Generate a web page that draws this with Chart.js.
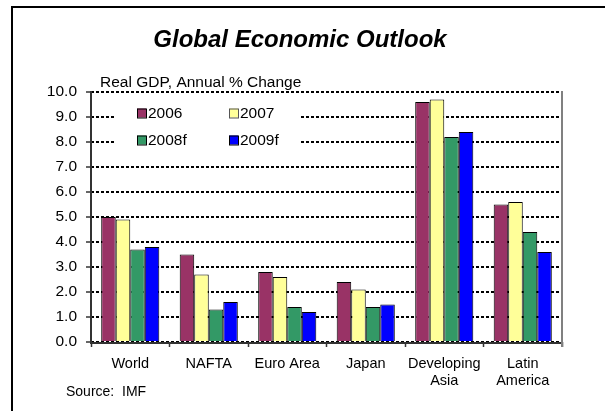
<!DOCTYPE html>
<html>
<head>
<meta charset="utf-8">
<script src="https://cdn.jsdelivr.net/npm/chart.js@4"></script>
<style>
html,body{margin:0;padding:0;background:#fff;}
#wrap{width:605px;height:411px;position:relative;}
</style>
</head>
<body>
<div id="wrap"><canvas id="c" width="605" height="411"></canvas></div>
<script>
const categories = [["World"], ["NAFTA"], ["Euro Area"], ["Japan"], ["Developing", "Asia"], ["Latin", "America"]];
const seriesNames = ["2006", "2007", "2008f", "2009f"];
const v2006 = [5.0, 3.5, 2.8, 2.4, 9.6, 5.5];
const v2007 = [4.9, 2.7, 2.6, 2.1, 9.7, 5.6];
const v2008f = [3.7, 1.3, 1.4, 1.4, 8.2, 4.4];
const v2009f = [3.8, 1.6, 1.2, 1.5, 8.4, 3.6];
const yTicks = [0, 1, 2, 3, 4, 5, 6, 7, 8, 9, 10];
const titleText = "Global Economic Outlook";
const subtitleText = "Real GDP, Annual % Change";
const sourceText = "Source:  IMF";

const colors = ["#993366", "#FFFF99", "#339966", "#0000FF"];
const FONT = "'Liberation Sans', Arial, Helvetica, sans-serif";

const extras = {
  id: 'extras',
  beforeDraw(chart) {
    const ctx = chart.ctx;
    ctx.save();
    ctx.fillStyle = '#fff';
    ctx.fillRect(0, 0, chart.width, chart.height);
    ctx.restore();
  },
  afterDatasetsDraw(chart) {
    const ctx = chart.ctx;
    const a = chart.chartArea;
    ctx.save();
    ctx.setLineDash([]);
    // axis lines (solid)
    ctx.strokeStyle = '#333';
    ctx.lineWidth = 2;
    ctx.beginPath();
    ctx.moveTo(a.left, a.top - 1);
    ctx.lineTo(a.left, a.bottom + 1);
    ctx.lineTo(a.right, a.bottom + 1);
    ctx.stroke();
    // right edge of plot
    ctx.strokeStyle = '#808080';
    ctx.beginPath();
    ctx.moveTo(a.right, a.top - 1);
    ctx.lineTo(a.right, a.bottom + 5);
    ctx.stroke();
    // legend box
    const lx = a.left + 24, ly = a.top + 9, lw = 185, lh = 52;
    ctx.fillStyle = '#fff';
    ctx.fillRect(lx, ly, lw, lh);
    ctx.font = "15.5px " + FONT;
    ctx.textBaseline = 'middle';
    ctx.textAlign = 'left';
    chart.data.datasets.forEach((ds, i) => {
      const col = i % 2, row = Math.floor(i / 2);
      const sx = lx + 22 + col * 92;
      const sy = ly + 12 + row * 27;
      ctx.fillStyle = ds.backgroundColor;
      ctx.fillRect(sx, sy - 4.5, 9, 9);
      ctx.strokeStyle = i === 1 ? '#555' : '#000';
      ctx.lineWidth = 1;
      ctx.strokeRect(sx + 0.5, sy - 4.5 + 0.5, 9, 9);
      ctx.fillStyle = '#000';
      ctx.fillText(ds.label, sx + 11, sy + 0.5);
    });
    ctx.restore();
  },
  afterDraw(chart) {
    const ctx = chart.ctx;
    ctx.save();
    ctx.setLineDash([]);
    // frame
    ctx.strokeStyle = '#000';
    ctx.lineWidth = 2;
    ctx.beginPath();
    ctx.moveTo(12, 420);
    ctx.lineTo(12, 7);
    ctx.lineTo(610, 7);
    ctx.stroke();
    ctx.fillStyle = '#000';
    ctx.textBaseline = 'middle';
    ctx.textAlign = 'center';
    ctx.font = "italic bold 24px " + FONT;
    ctx.fillText(titleText, 300, 40);
    ctx.textAlign = 'left';
    ctx.font = "15.5px " + FONT;
    ctx.fillText(subtitleText, 100, 83);
    ctx.font = "14px " + FONT;
    ctx.fillText(sourceText, 66, 392);
    ctx.restore();
  }
};

new Chart(document.getElementById('c'), {
  type: 'bar',
  data: {
    labels: categories,
    datasets: [
      { label: seriesNames[0], data: v2006, backgroundColor: colors[0] },
      { label: seriesNames[1], data: v2007, backgroundColor: colors[1] },
      { label: seriesNames[2], data: v2008f, backgroundColor: colors[2] },
      { label: seriesNames[3], data: v2009f, backgroundColor: colors[3] }
    ].map(d => Object.assign(d, { borderColor: '#000', borderWidth: 1, categoryPercentage: 0.74, barPercentage: 1.0 }))
  },
  options: {
    responsive: false,
    animation: false,
    devicePixelRatio: 1,
    layout: { padding: { left: 0, top: 92, right: 43, bottom: 0 } },
    plugins: { legend: { display: false }, title: { display: false }, tooltip: { enabled: false } },
    scales: {
      x: {
        offset: true,
        grid: { offset: true, drawOnChartArea: false, drawTicks: true, tickLength: 5, color: '#333', tickColor: '#333', tickWidth: 1.5 },
        border: { display: false },
        ticks: { color: '#000', font: { family: FONT, size: 14.5 }, padding: 8, maxRotation: 0, autoSkip: false },
        afterFit(s) { s.height = 69; }
      },
      y: {
        min: 0, max: 10,
        afterBuildTicks(s) { s.ticks = yTicks.map(v => ({ value: v })); },
        grid: { color: '#000', lineWidth: 2, drawTicks: true, tickLength: 5, tickColor: '#333', tickWidth: 1.5, tickBorderDash: [] },
        border: { display: false, dash: [3, 2] },
        ticks: { color: '#000', font: { family: FONT, size: 15.5 }, padding: 9, callback: v => Number(v).toFixed(1) },
        afterFit(s) { s.width = 91; }
      }
    }
  },
  plugins: [extras]
});
</script>
</body>
</html>
